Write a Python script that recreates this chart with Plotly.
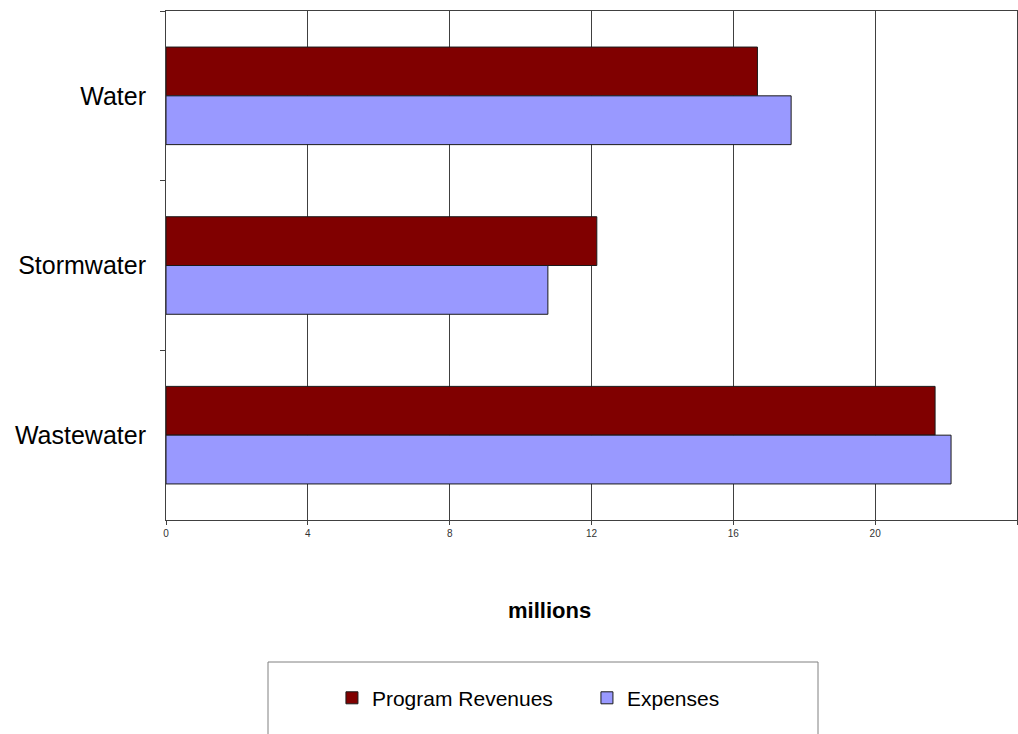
import plotly.graph_objects as go

categories = ["Water", "Stormwater", "Wastewater"]
program_revenues = [16.68, 12.15, 21.69]
expenses = [17.63, 10.77, 22.14]
x_ticks = [0, 4, 8, 12, 16, 20, 24]

fig = go.Figure()
fig.add_trace(go.Bar(
    y=categories, x=program_revenues, orientation="h", name="Program Revenues",
    marker=dict(color="#800000", line=dict(color="#1a1a1a", width=1)),
))
fig.add_trace(go.Bar(
    y=categories, x=expenses, orientation="h", name="Expenses",
    marker=dict(color="#9999FF", line=dict(color="#1a1a1a", width=1)),
))

fig.update_layout(
    width=1018, height=734,
    margin=dict(l=166, r=1, t=11, b=214),
    paper_bgcolor="white", plot_bgcolor="white",
    barmode="group", bargap=0.425, bargroupgap=0,
    font=dict(family="Liberation Sans, Arial, sans-serif", color="black"),
    showlegend=True,
    legend=dict(
        orientation="h", x=0.195, xanchor="left", y=-0.35, yanchor="middle",
        font=dict(size=21, color="black"), bgcolor="rgba(0,0,0,0)",
        borderwidth=0, entrywidth=210, traceorder="normal",
    ),
    shapes=[dict(
        type="rect", xref="paper", yref="paper",
        x0=(268 - 166) / 851, x1=(818 - 166) / 851,
        y0=(520 - 745) / 509, y1=(520 - 662) / 509,
        line=dict(color="#808080", width=1), fillcolor="rgba(0,0,0,0)",
    )],
    annotations=[dict(
        text="<b>millions</b>", xref="paper", yref="paper",
        x=(549 - 166) / 851, y=(520 - 610) / 509,
        xanchor="center", yanchor="middle", showarrow=False,
        font=dict(size=22, color="black"),
    )],
)

fig.update_xaxes(
    range=[0, 24], tickvals=x_ticks, ticktext=[str(v) for v in x_ticks],
    showgrid=True, gridcolor="#404040", gridwidth=1,
    showline=True, linecolor="#404040", linewidth=1, mirror=True,
    ticks="outside", ticklen=4, tickcolor="#404040",
    tickfont=dict(size=10, color="#333333"), zeroline=False,
)
fig.update_yaxes(
    autorange="reversed", categoryorder="array", categoryarray=categories,
    showline=True, linecolor="#404040", linewidth=1, mirror=True,
    ticks="outside", ticklen=5, tickcolor="#404040", tickson="boundaries",
    tickfont=dict(size=25, color="black"), ticklabelstandoff=14,
    showgrid=False,
)

fig.write_html("out.html")
